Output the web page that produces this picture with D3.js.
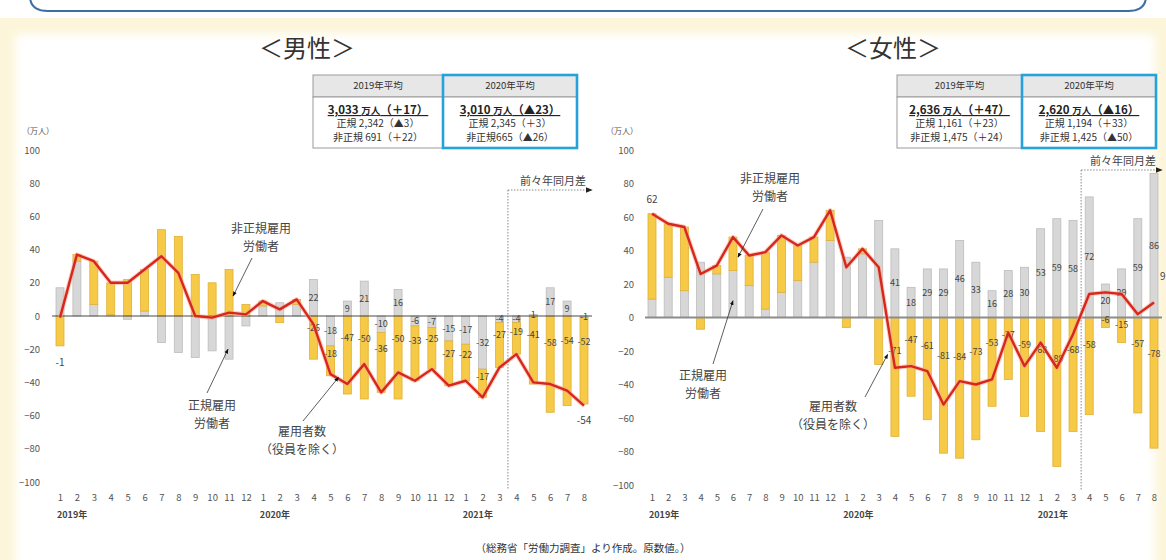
<!DOCTYPE html>
<html>
<head>
<meta charset="utf-8">
<script src="https://cdn.jsdelivr.net/npm/d3@7"></script>
<style>
  body { margin: 0; background: #fff; }
  svg { display: block; font-family: "Noto Sans CJK JP", "Noto Sans", sans-serif; }
</style>
</head>
<body>
<svg id="chart" width="1166" height="560"></svg>
<script>
// Month ticks, Jan 2019 .. Aug 2021
const months = ['1','2','3','4','5','6','7','8','9','10','11','12',
                '1','2','3','4','5','6','7','8','9','10','11','12',
                '1','2','3','4','5','6','7','8'];
const yearLabels = ['2019年', '2020年', '2021年'];
const yearStartIndex = [0, 12, 24];
const yTicks = [100, 80, 60, 40, 20, 0, -20, -40, -60, -80, -100];

// Men (万人, change vs. same month)
const menRegular    = [17, 33, 7, 1, -2, 3, -16, -22, -25, -21, -26, -6,
                       6, 8, 7, 22, -18, 9, 21, -10, 16, -6, -7, -15,
                       -17, -32, -4, -4, 1, 17, 9, -1];
const menNonRegular = [-18, 4, 26, 19, 22, 25, 52, 48, 25, 20, 28, 7,
                       3, -4, 3, -26, -18, -47, -50, -36, -50, -33, -25, -27,
                       -22, -17, -27, -19, -41, -58, -54, -52];
const menTotal      = [-1, 37, 33, 20, 20, 28, 36, 26, 0, -1, 2, 1,
                       9, 4, 10, -5, -35, -41, -29, -46, -34, -39, -32, -42,
                       -39, -49, -31, -23, -40, -41, -45, -54];

// Women
const womenRegular    = [11, 24, 16, 33, 26, 28, 19, 5, 15, 22, 33, 46,
                         36, 38, 58, 41, 18, 29, 29, 46, 33, 16, 28, 30,
                         53, 59, 58, 72, 20, 29, 59, 86];
const womenNonRegular = [51, 32, 38, -7, 5, 20, 18, 34, 34, 21, 15, 18,
                         -6, 3, -28, -71, -47, -61, -81, -84, -73, -53, -37, -59,
                         -68, -89, -68, -58, -6, -15, -57, -78];
const womenTotal      = [62, 56, 54, 26, 31, 48, 37, 39, 49, 43, 48, 64,
                         30, 41, 30, -30, -29, -32, -52, -38, -40, -37, -9, -29,
                         -15, -30, -10, 14, 15, 14, 2, 9];

// Summary tables
const menTableHead = ['2019年平均', '2020年平均'];
const menTableTotal = [['3,033', '（＋17）'], ['3,010', '（▲23）']];
const menTableRegular = ['正規 2,342（▲3）', '正規 2,345（＋3）'];
const menTableNonRegular = ['非正規 691（＋22）', '非正規665（▲26）'];
const womenTableHead = ['2019年平均', '2020年平均'];
const womenTableTotal = [['2,636', '（＋47）'], ['2,620', '（▲16）']];
const womenTableRegular = ['正規 1,161（＋23）', '正規 1,194（＋33）'];
const womenTableNonRegular = ['非正規 1,475（＋24）', '非正規 1,425（▲50）'];

const labelStart = 15;   // bar values are printed from Apr 2020 on

const colors = {
  regular:    { fill: '#d7d7d7', stroke: '#bcbcbc' },
  nonRegular: { fill: '#f6c946', stroke: '#e0b136' }
};

const svg = d3.select('#chart');
const defs = svg.append('defs');
defs.append('filter').attr('id', 'soft')
  .attr('x', '-5%').attr('y', '-5%').attr('width', '110%').attr('height', '110%')
  .append('feGaussianBlur').attr('stdDeviation', 5);
defs.append('marker').attr('id', 'tip')
  .attr('viewBox', '0 0 10 10').attr('refX', 9).attr('refY', 5)
  .attr('markerWidth', 6).attr('markerHeight', 6).attr('orient', 'auto-start-reverse')
  .append('path').attr('d', 'M0,1 L10,5 L0,9 Z').attr('fill', '#111');
defs.append('marker').attr('id', 'arrowR')
  .attr('viewBox', '0 0 10 10').attr('refX', 9).attr('refY', 5)
  .attr('markerWidth', 7).attr('markerHeight', 7).attr('orient', 'auto')
  .append('path').attr('d', 'M0,1 L10,5 L0,9 Z').attr('fill', '#222');

// Background: cream frame, white sheet, blue box edge above
svg.append('rect').attr('width', 1166).attr('height', 560).attr('fill', '#fff');
svg.append('rect').attr('x', 0).attr('y', 18).attr('width', 1166).attr('height', 542).attr('fill', '#fcf5d9');
svg.append('rect').attr('x', 15).attr('y', 34).attr('width', 1140).attr('height', 560)
  .attr('fill', '#fff').attr('filter', 'url(#soft)');
svg.append('path')
  .attr('d', 'M30,-4 Q30,11 48,11 L1128,11 Q1146,11 1146,-4')
  .attr('fill', 'none').attr('stroke', '#3f6ea6').attr('stroke-width', 2);

const panels = [
  {
    title: '＜男性＞', titleX: 307,
    regular: menRegular, nonRegular: menNonRegular, total: menTotal,
    xRange: [60, 584], yRange: [482, 150], yAxisX: 40, unitX: 22,
    zeroX: [52, 592], zeroColor: '#4a4a4a', zeroWidth: 1.2,
    dottedTop: 190,
    table: { x: [313, 443, 577], head: menTableHead, total: menTableTotal,
             regular: menTableRegular, nonRegular: menTableNonRegular },
    endLabels: [{ i: 0, pos: 'below' }, { i: 31, pos: 'below' }],
    notes: [
      { lines: ['非正規雇用', '労働者'], tx: 261, ty: 229, from: [252, 258], i: 10, dx: 4, v: 12 },
      { lines: ['正規雇用', '労働者'], tx: 212, ty: 406, from: [207, 393], i: 10, dx: -1, v: -20 },
      { lines: ['雇用者数', '（役員を除く）'], tx: 302, ty: 432, from: [303, 421], i: 16, dx: 8, v: -37 }
    ]
  },
  {
    title: '＜女性＞', titleX: 893,
    regular: womenRegular, nonRegular: womenNonRegular, total: womenTotal,
    xRange: [652, 1154], yRange: [485, 150], yAxisX: 634, unitX: 606,
    zeroX: [645, 1162], zeroColor: '#8c8c8c', zeroWidth: 2,
    dottedTop: 170,
    table: { x: [897, 1022, 1156], head: womenTableHead, total: womenTableTotal,
             regular: womenTableRegular, nonRegular: womenTableNonRegular },
    endLabels: [{ i: 0, pos: 'above' }, { i: 31, pos: 'right' }],
    notes: [
      { lines: ['非正規雇用', '労働者'], tx: 770, ty: 179, from: [763, 209], i: 5, dx: 5, v: 36 },
      { lines: ['正規雇用', '労働者'], tx: 703, ty: 376, from: [713, 364], i: 5, dx: 0, v: 10 },
      { lines: ['雇用者数', '（役員を除く）'], tx: 833, ty: 407, from: [865, 397], i: 14, dx: 9, v: -22 }
    ]
  }
];

panels.forEach(drawPanel);

svg.append('text')
  .attr('x', 583).attr('y', 552)
  .attr('text-anchor', 'middle').attr('font-size', '10.5px').attr('fill', '#333')
  .text('（総務省「労働力調査」より作成。原数値。）');

function drawPanel(cfg) {
  const x = d3.scalePoint().domain(d3.range(months.length)).range(cfg.xRange);
  const y = d3.scaleLinear().domain([-100, 100]).range(cfg.yRange);
  const step = x.step();
  const barW = 8;

  const g = svg.append('g');

  // Title
  g.append('text')
    .attr('x', cfg.titleX).attr('y', 57)
    .attr('text-anchor', 'middle').attr('font-size', '24px').attr('fill', '#333')
    .text(cfg.title);

  drawTable(g, cfg.table);

  // Unit + y axis
  g.append('text')
    .attr('x', cfg.unitX).attr('y', 134)
    .attr('font-size', '8px').attr('fill', '#555')
    .text('（万人）');

  const yAxis = g.append('g')
    .attr('transform', 'translate(' + [cfg.yAxisX, 0] + ')')
    .call(d3.axisLeft(y).tickValues(yTicks).tickSize(0).tickPadding(0));
  yAxis.select('.domain').remove();
  yAxis.selectAll('text').attr('font-size', '9.5px').attr('fill', '#555')
    .attr('font-family', '"Noto Sans CJK JP", sans-serif');

  // Stacked bars (regular first, diverging around zero)
  const rows = months.map((m, i) => ({ i: i, regular: cfg.regular[i], nonRegular: cfg.nonRegular[i] }));
  const series = d3.stack()
    .keys(['regular', 'nonRegular'])
    .offset(d3.stackOffsetDiverging)(rows);

  g.selectAll('.series')
    .data(series)
    .enter()
    .append('g')
    .attr('class', 'series')
    .attr('fill', d => colors[d.key].fill)
    .attr('stroke', d => colors[d.key].stroke)
    .attr('stroke-width', 0.8)
    .selectAll('rect')
    .data(d => d)
    .enter()
    .append('rect')
    .attr('x', d => x(d.data.i) - barW / 2)
    .attr('y', d => y(Math.max(d[0], d[1])))
    .attr('width', barW)
    .attr('height', d => Math.abs(y(d[0]) - y(d[1])));

  // Zero line
  g.append('line')
    .attr('x1', cfg.zeroX[0]).attr('x2', cfg.zeroX[1])
    .attr('y1', y(0)).attr('y2', y(0))
    .attr('stroke', cfg.zeroColor).attr('stroke-width', cfg.zeroWidth);

  // X axis
  const xAxis = g.append('g')
    .attr('transform', 'translate(' + [0, 493] + ')')
    .call(d3.axisBottom(x).tickSize(0).tickPadding(1).tickFormat(i => months[i]));
  xAxis.select('.domain').remove();
  xAxis.selectAll('text').attr('font-size', '9.5px').attr('fill', '#555')
    .attr('font-family', '"Noto Sans CJK JP", sans-serif');

  g.selectAll('.year')
    .data(yearLabels)
    .enter()
    .append('text')
    .attr('class', 'year')
    .attr('x', (d, k) => x(yearStartIndex[k]) - 3)
    .attr('y', 518)
    .attr('font-size', '9px').attr('font-weight', 'bold').attr('fill', '#444')
    .text(d => d);

  // 前々年同月差 marker
  const xd = x(26) + step / 2;
  g.append('line')
    .attr('x1', xd).attr('x2', xd).attr('y1', cfg.dottedTop).attr('y2', 490)
    .attr('stroke', '#888').attr('stroke-width', 1).attr('stroke-dasharray', '1.5,1.5');
  g.append('line')
    .attr('x1', xd).attr('x2', x(31) + 8).attr('y1', cfg.dottedTop).attr('y2', cfg.dottedTop)
    .attr('stroke', '#888').attr('stroke-width', 1).attr('stroke-dasharray', '1.5,1.5')
    .attr('marker-end', 'url(#arrowR)');
  g.append('text')
    .attr('x', x(31) + 2).attr('y', cfg.dottedTop - 5)
    .attr('text-anchor', 'end').attr('font-size', '11px').attr('fill', '#444')
    .text('前々年同月差');

  // Bar value labels
  g.selectAll('.lab-reg')
    .data(series[0].filter(d => d.data.i >= labelStart))
    .enter()
    .append('text')
    .attr('class', 'lab-reg')
    .attr('x', d => x(d.data.i))
    .attr('y', d => y((d[0] + d[1]) / 2))
    .attr('dy', '0.35em')
    .attr('text-anchor', 'middle').attr('font-size', '9px').attr('fill', '#444')
    .text(d => d.data.regular);

  g.selectAll('.lab-non')
    .data(series[1].filter(d => d.data.i >= labelStart))
    .enter()
    .append('text')
    .attr('class', 'lab-non')
    .attr('x', d => x(d.data.i))
    .attr('y', d => y(d[0] + (d[1] - d[0]) * 0.72))
    .attr('dy', '0.35em')
    .attr('text-anchor', 'middle').attr('font-size', '9px').attr('fill', '#444')
    .text(d => d.data.nonRegular);

  // Total line (雇用者数)
  const line = d3.line().x((d, i) => x(i)).y(d => y(d));
  g.append('path').datum(cfg.total)
    .attr('d', line).attr('fill', 'none')
    .attr('stroke', '#f4a98f').attr('stroke-width', 4.5).attr('stroke-opacity', 0.55)
    .attr('stroke-linejoin', 'round');
  g.append('path').datum(cfg.total)
    .attr('d', line).attr('fill', 'none')
    .attr('stroke', '#d8261c').attr('stroke-width', 2.4)
    .attr('stroke-linejoin', 'round');

  // Total labels at both ends
  cfg.endLabels.forEach(e => {
    const top = Math.max(0, series[0][e.i][1], series[1][e.i][1]);
    const bottom = Math.min(0, series[0][e.i][0], series[1][e.i][0], series[1][e.i][1]);
    let lx = x(e.i), ly, anchor = 'middle';
    if (e.pos === 'below') ly = y(bottom) + 17;
    else if (e.pos === 'above') ly = y(top) - 14;
    else { lx = x(e.i) + 6; ly = y(cfg.total[e.i]) - 26; anchor = 'start'; }
    g.append('text')
      .attr('x', lx).attr('y', ly).attr('dy', '0.35em')
      .attr('text-anchor', anchor).attr('font-size', '10px').attr('fill', '#444')
      .text(cfg.total[e.i]);
  });

  // Callouts
  cfg.notes.forEach(n => {
    const tipX = x(n.i) + n.dx, tipY = y(n.v);
    g.append('line')
      .attr('x1', n.from[0]).attr('y1', n.from[1]).attr('x2', tipX).attr('y2', tipY)
      .attr('stroke', '#333').attr('stroke-width', 0.8)
      .attr('marker-end', 'url(#tip)');
    n.lines.forEach((t, k) => {
      g.append('text')
        .attr('x', n.tx).attr('y', n.ty + k * 17.5).attr('dy', '0.35em')
        .attr('text-anchor', 'middle').attr('font-size', '12px').attr('fill', '#444')
        .text(t);
    });
  });
}

function drawTable(g, t) {
  const [x0, x1, x2] = t.x;
  const top = 75, headBottom = 97, bottom = 148;
  const cols = [[x0, x1], [x1, x2]];

  cols.forEach((c, k) => {
    g.append('rect')
      .attr('x', c[0]).attr('y', top).attr('width', c[1] - c[0]).attr('height', headBottom - top)
      .attr('fill', '#e7e7e7').attr('stroke', '#9a9a9a').attr('stroke-width', 1);
    g.append('rect')
      .attr('x', c[0]).attr('y', headBottom).attr('width', c[1] - c[0]).attr('height', bottom - headBottom)
      .attr('fill', '#fff').attr('stroke', '#9a9a9a').attr('stroke-width', 1);

    const cx = (c[0] + c[1]) / 2;
    g.append('text')
      .attr('x', cx).attr('y', 86).attr('dy', '0.35em')
      .attr('text-anchor', 'middle').attr('font-size', '9.5px').attr('fill', '#333')
      .text(t.head[k]);

    const tot = g.append('text')
      .attr('x', cx).attr('y', 110).attr('dy', '0.35em')
      .attr('text-anchor', 'middle').attr('font-size', '11.5px').attr('font-weight', 'bold')
      .attr('fill', '#222').attr('text-decoration', 'underline');
    tot.append('tspan').text(t.total[k][0] + ' ');
    tot.append('tspan').attr('font-size', '9.5px').text('万人');
    tot.append('tspan').text(t.total[k][1]);

    g.append('text')
      .attr('x', cx).attr('y', 123.5).attr('dy', '0.35em')
      .attr('text-anchor', 'middle').attr('font-size', '10px').attr('fill', '#333')
      .text(t.regular[k]);
    g.append('text')
      .attr('x', cx).attr('y', 137).attr('dy', '0.35em')
      .attr('text-anchor', 'middle').attr('font-size', '10px').attr('fill', '#333')
      .text(t.nonRegular[k]);
  });

  // 2020 column framed in blue
  g.append('rect')
    .attr('x', x1).attr('y', top).attr('width', x2 - x1).attr('height', bottom - top)
    .attr('fill', 'none').attr('stroke', '#25a2db').attr('stroke-width', 2.6);
}
</script>
</body>
</html>
